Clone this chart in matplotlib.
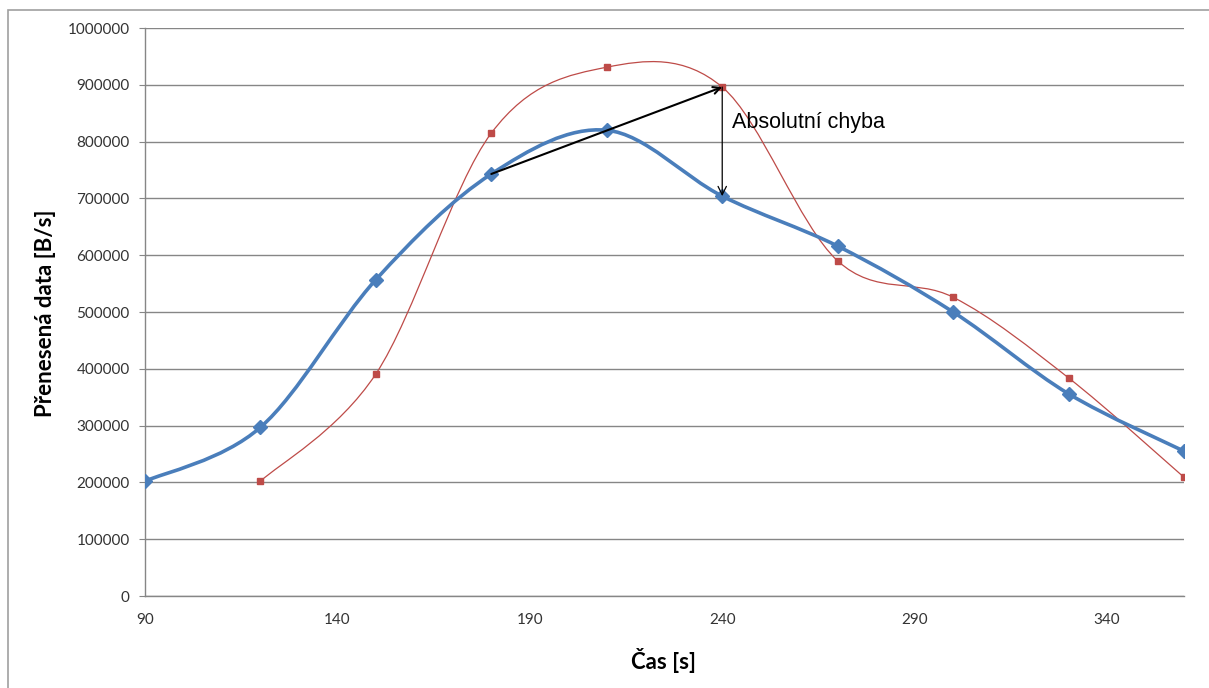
import numpy as np
import matplotlib.pyplot as plt
from matplotlib.path import Path
from matplotlib.patches import PathPatch, Rectangle

# namerene a odhadnute hodnoty
cas_mer = [90, 120, 150, 180, 210, 240, 270, 300, 330, 360]
data_mer = [202000, 297000, 557000, 743000, 820000, 704000, 616000, 500000, 356000, 255000]
cas_odh = [120, 150, 180, 210, 240, 270, 300, 330, 360]
data_odh = [202000, 391000, 815000, 931000, 896000, 590000, 526000, 384000, 209000]

x_ticks = [90, 140, 190, 240, 290, 340]
y_ticks = list(range(0, 1000001, 100000))


def smooth_path(xs, ys):
    # vyhlazena cara jako v Excelu (Bezierovy krivky, napeti 1/6)
    p = np.column_stack([xs, ys]).astype(float)
    n = len(p)
    verts = [p[0]]
    codes = [Path.MOVETO]
    for i in range(n - 1):
        p0 = p[i - 1] if i > 0 else p[i]
        p3 = p[i + 2] if i + 2 < n else p[i + 1]
        c1 = p[i] + (p[i + 1] - p0) / 6
        c2 = p[i + 1] - (p3 - p[i]) / 6
        verts += [c1, c2, p[i + 1]]
        codes += [Path.CURVE4] * 3
    return Path(verts, codes)


plt.rcParams['font.family'] = ['Lato', 'DejaVu Sans']
fig = plt.figure(figsize=(12.09, 6.88), dpi=100)
fig.patches.append(Rectangle((8 / 1209, -0.1), 1.2, 1.1 - 10 / 688,
                             transform=fig.transFigure, fill=False,
                             edgecolor='#a0a0a0', linewidth=1.2))
ax = fig.add_axes([145 / 1209, 1 - 596 / 688, (1184 - 145) / 1209, (596 - 28) / 688])

modra = '#4a7ebb'
cervena = '#be4b48'

ax.add_patch(PathPatch(smooth_path(cas_odh, data_odh), fill=False,
                       edgecolor=cervena, linewidth=0.9, zorder=3))
ax.plot(cas_odh, data_odh, linestyle='none', marker='s', markersize=4.5,
        color=cervena, zorder=4)
ax.add_patch(PathPatch(smooth_path(cas_mer, data_mer), fill=False,
                       edgecolor=modra, linewidth=2.6, zorder=5,
                       capstyle='round', joinstyle='round'))
ax.plot(cas_mer, data_mer, linestyle='none', marker='D', markersize=7,
        color=modra, zorder=6)

# sipky pro absolutni chybu
ax.annotate('', xy=(cas_odh[4], data_odh[4]), xytext=(cas_mer[3], data_mer[3]),
            arrowprops=dict(arrowstyle='->,head_length=0.5,head_width=0.25',
                            color='black', lw=1.5, shrinkA=0, shrinkB=0), zorder=7)
ax.annotate('', xy=(cas_mer[5], data_mer[5]), xytext=(cas_odh[4], data_odh[4]),
            arrowprops=dict(arrowstyle='->,head_length=0.6,head_width=0.3',
                            color='black', lw=0.9, shrinkA=0, shrinkB=0), zorder=7)
ax.text(242.5, 833000, 'Absolutní chyba', fontsize=15.5,
        family=['Liberation Sans', 'DejaVu Sans'], va='center', ha='left', zorder=8)

ax.set_xlim(90, 360)
ax.set_ylim(0, 1000000)
ax.set_xticks(x_ticks)
ax.set_xticklabels([str(v) for v in x_ticks])
ax.set_yticks(y_ticks)
ax.set_yticklabels([str(v) for v in y_ticks])
ax.tick_params(axis='both', labelsize=11, colors='#333333', length=4, width=0.8)
ax.tick_params(axis='x', length=0, pad=12)
ax.tick_params(axis='y', color='#868686', pad=7)
ax.yaxis.grid(True, color='#868686', linewidth=1)
ax.set_axisbelow(True)
for s in ['top', 'right']:
    ax.spines[s].set_visible(False)
for s in ['left', 'bottom']:
    ax.spines[s].set_color('#868686')
    ax.spines[s].set_linewidth(1)

ax.set_xlabel('Čas [s]', fontsize=16, fontweight='bold')
ax.set_ylabel('Přenesená data [B/s]', fontsize=16, fontweight='bold')
ax.xaxis.set_label_coords(0.4995, -0.0915)
ax.yaxis.set_label_coords(-0.0857, 0.498)

fig.savefig('out.png', dpi=100)
